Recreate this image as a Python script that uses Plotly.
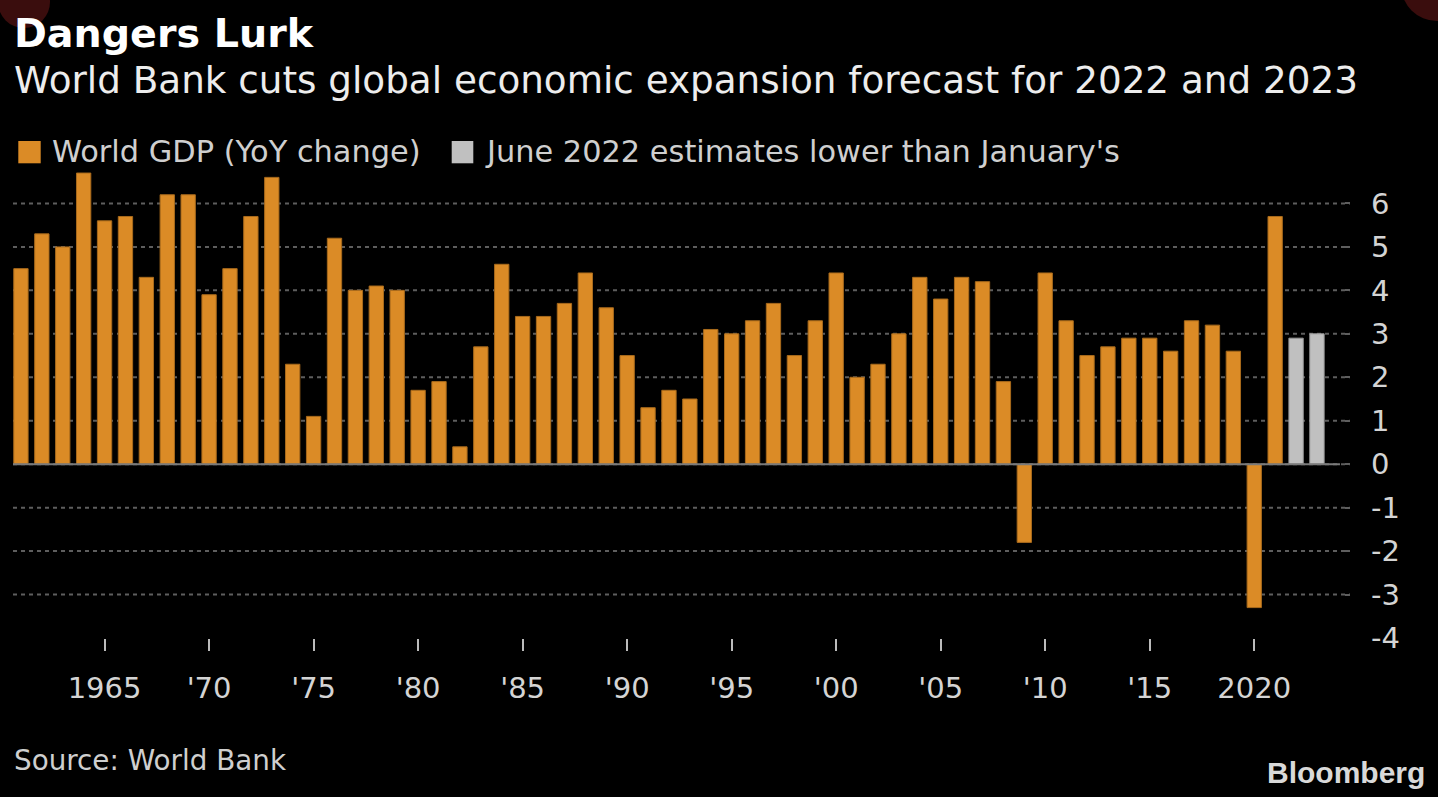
import plotly.graph_objects as go

# ---- data ----
years = list(range(1961, 2022))
gdp = [4.5, 5.3, 5.0, 6.7, 5.6, 5.7, 4.3, 6.2, 6.2, 3.9,
       4.5, 5.7, 6.6, 2.3, 1.1, 5.2, 4.0, 4.1, 4.0, 1.7,
       1.9, 0.4, 2.7, 4.6, 3.4, 3.4, 3.7, 4.4, 3.6, 2.5,
       1.3, 1.7, 1.5, 3.1, 3.0, 3.3, 3.7, 2.5, 3.3, 4.4,
       2.0, 2.3, 3.0, 4.3, 3.8, 4.3, 4.2, 1.9, -1.8, 4.4,
       3.3, 2.5, 2.7, 2.9, 2.9, 2.6, 3.3, 3.2, 2.6, -3.3,
       5.7]
est_years = [2022, 2023]
est_values = [2.9, 3.0]

x_tickvals = [1965, 1970, 1975, 1980, 1985, 1990, 1995, 2000, 2005, 2010, 2015, 2020]
x_ticktext = ["1965", "'70", "'75", "'80", "'85", "'90", "'95", "'00", "'05", "'10", "'15", "2020"]
y_tickvals = [-4, -3, -2, -1, 0, 1, 2, 3, 4, 5, 6]
y_ticktext = ["-4", "-3", "-2", "-1", "0", "1", "2", "3", "4", "5", "6"]
grid_vals = [-3, -2, -1, 0, 1, 2, 3, 4, 5, 6]

series_names = ["World GDP (YoY change)", "June 2022 estimates lower than January's"]
title_text = "Dangers Lurk"
subtitle_text = "World Bank cuts global economic expansion forecast for 2022 and 2023"
source_text = "Source: World Bank"

# ---- styling ----
ORANGE = "#DB8B26"
GRAY = "#C0C0C0"
BG = "#000000"
W, H = 1438, 797
ML, MR, MT, MB = 13, 88, 160, 159
PW, PH = W - ML - MR, H - MT - MB


def px(xp):
    return (xp - ML) / PW


def py(yp):
    return (H - MB - yp) / PH


fig = go.Figure()
fig.add_trace(go.Bar(x=years, y=gdp, name=series_names[0], width=0.685,
                     marker=dict(color=ORANGE, line=dict(color="#A86A1C", width=1)),
                     showlegend=False))
fig.add_trace(go.Bar(x=est_years, y=est_values, name=series_names[1], width=0.685,
                     marker=dict(color=GRAY, line=dict(color="#9a9a9a", width=1)),
                     showlegend=False))

shapes = []
for g in grid_vals:
    shapes.append(dict(type="line", xref="paper", yref="y", x0=0, x1=1, y0=g, y1=g,
                       line=dict(color="#5e5e5e", width=2, dash="4px,4px"), layer="below"))
# zero baseline
shapes.append(dict(type="line", xref="x", yref="y", x0=1960.62, x1=2024.1, y0=0, y1=0,
                   line=dict(color="#7a7a7a", width=2), layer="above"))
# legend swatches
shapes.append(dict(type="rect", xref="paper", yref="paper", x0=px(18.3), x1=px(40.7),
                   y0=py(163.3), y1=py(141), fillcolor=ORANGE, line=dict(width=0)))
shapes.append(dict(type="rect", xref="paper", yref="paper", x0=px(451.7), x1=px(473.3),
                   y0=py(163.3), y1=py(141), fillcolor=GRAY, line=dict(width=0)))
# dark circular overlays seen in the corners of the reference screenshot
shapes.append(dict(type="circle", xref="paper", yref="paper", x0=px(-2), x1=px(50),
                   y0=py(28), y1=py(-24), fillcolor="#3a0d0d", line=dict(width=0)))
shapes.append(dict(type="circle", xref="paper", yref="paper", x0=px(1401), x1=px(1473),
                   y0=py(21), y1=py(-51), fillcolor="#3a0d0d", line=dict(width=0)))

annotations = []


def add_text(text, x, y, size, color, family="DejaVu Sans", bold=False, xanchor="left"):
    annotations.append(dict(text=("<b>%s</b>" % text) if bold else text,
                            xref="paper", yref="paper", x=px(x), y=py(y),
                            xanchor=xanchor, yanchor="middle", showarrow=False,
                            font=dict(family=family, size=size, color=color)))


add_text(title_text, 12, 33, 39.6, "#FFFFFF", bold=True)
add_text(subtitle_text, 12, 80, 37.3, "#EDEDED")
add_text(series_names[0], 50, 152, 30.4, "#CFCFCF")
add_text(series_names[1], 483, 152, 30.4, "#CFCFCF")
add_text(source_text, 12, 760, 27.8, "#CFCFCF")
add_text("Bloomberg", 1427, 772, 30, "#D9D9D9", family="Liberation Sans", bold=True, xanchor="right")

fig.update_layout(
    width=W, height=H,
    paper_bgcolor=BG, plot_bgcolor=BG,
    margin=dict(l=ML, r=MR, t=MT, b=MB, pad=0),
    barmode="overlay",
    showlegend=False,
    shapes=shapes,
    annotations=annotations,
    xaxis=dict(range=[1960.62, 2024.58], tickvals=x_tickvals, ticktext=x_ticktext,
               showgrid=False, zeroline=False, showline=False,
               ticks="outside", ticklen=12, tickwidth=1.5, tickcolor="#BBBBBB",
               ticklabelstandoff=12,
               tickfont=dict(family="DejaVu Sans", size=29, color="#D4D4D4")),
    yaxis=dict(range=[-4, 7], side="right", tickvals=y_tickvals, ticktext=y_ticktext,
               showgrid=False, zeroline=False, showline=False,
               ticks="inside", ticklen=5, tickwidth=2, tickcolor="#5e5e5e",
               ticklabelstandoff=20,
               tickfont=dict(family="DejaVu Sans", size=29, color="#D4D4D4")),
)

fig.write_html("out.html",
               config={"displayModeBar": False},
               post_script="document.body.style.margin='0';document.body.style.overflow='hidden';")
